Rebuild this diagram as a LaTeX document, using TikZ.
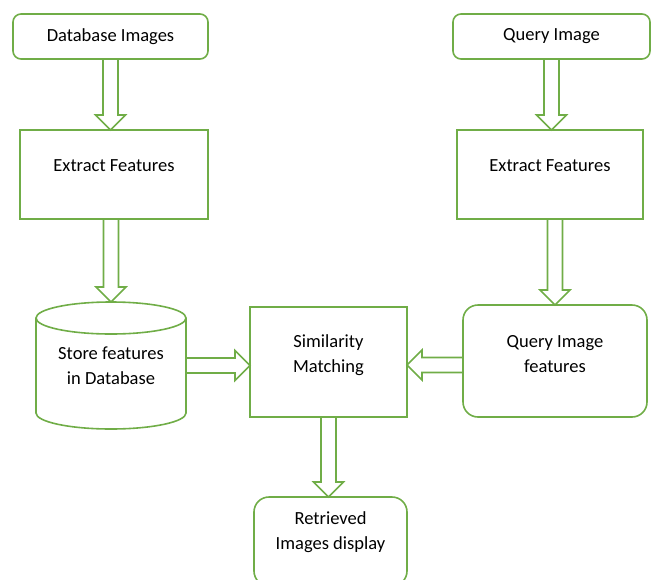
\documentclass[tikz,border=0pt]{standalone}
\usepackage{fontspec}
\setmainfont{Carlito}
\usetikzlibrary{calc}
\definecolor{leaf}{RGB}{112,173,71}

\tikzset{
  box/.style={draw=leaf, line width=1.6pt, rectangle, align=center, inner sep=0pt,
    outer sep=0pt, font=\fontsize{18.5}{25}\selectfont},
  hollow/.style={draw=leaf, fill=white, line width=1.6pt, line join=miter}
}

% hollow block arrow: name, from, to
\newcommand{\blockarrow}[3]{%
  \path (#2) coordinate (#1-from) (#3) coordinate (#1-to);
  \pgfpointdiff{\pgfpointanchor{#1-from}{center}}{\pgfpointanchor{#1-to}{center}}%
  \pgfgetlastxy{\arrdx}{\arrdy}%
  \pgfmathsetmacro\arrang{atan2(\arrdy,\arrdx)}%
  \pgfmathsetmacro\arrlen{veclen(\arrdx,\arrdy)}%
  \begin{scope}[shift={(#1-from)}, rotate=\arrang, x=1pt, y=1pt]
    \draw[hollow] (0,-7.5) -- (\arrlen-15,-7.5) -- (\arrlen-15,-15) -- (\arrlen,0)
      -- (\arrlen-15,15) -- (\arrlen-15,7.5) -- (0,7.5) -- cycle;
  \end{scope}}

\begin{document}
\begin{tikzpicture}[x=1pt, y=-1pt]
  \useasboundingbox (0,0) rectangle (651,579);

  % Inputs
  \node[box, rounded corners=8pt, minimum width=195pt, minimum height=45pt]
    (dbimg) at (110.5,36.5) {Database Images};
  \node[box, rounded corners=8pt, minimum width=197pt, minimum height=45pt]
    (qimg) at (551.5,36.5) {Query Image};

  % Feature extraction
  \node[box, minimum width=188pt, minimum height=89pt, text height=12pt, text depth=18pt]
    (ext1) at (114,174.5) {Extract Features};
  \node[box, minimum width=186pt, minimum height=89pt, text height=12pt, text depth=18pt]
    (ext2) at (550,174.5) {Extract Features};

  % Database cylinder
  \node[align=center, inner sep=0pt, outer sep=0pt, minimum width=150pt, minimum height=95pt,
    font=\fontsize{18.5}{25}\selectfont] (store) at (111,365.5) {Store features\\in Database};
  \draw[leaf, line width=1.6pt] (store.north west) -- (store.south west)
    arc[start angle=180, end angle=360, x radius=75pt, y radius=16pt] -- (store.north east);
  \draw[leaf, line width=1.6pt] (store.north) ellipse [x radius=75pt, y radius=16pt];
  \coordinate (storetop) at ($(store.north)+(0pt,16pt)$);

  % Matching and query features
  \node[box, minimum width=157pt, minimum height=110pt, text height=37pt, text depth=16pt]
    (simm) at (328.5,362) {Similarity\\Matching};
  \node[box, rounded corners=15pt, minimum width=184pt, minimum height=112pt,
    text height=37pt, text depth=14pt] (qfeat) at (555,361) {Query Image\\features};

  % Output
  \node[box, rounded corners=15pt, minimum width=153pt, minimum height=89pt,
    text height=37pt, text depth=22pt] (retr) at (330.5,541.5) {Retrieved\\Images display};

  % Block arrows
  \blockarrow{a1}{dbimg.south}{dbimg.south |- ext1.north}
  \blockarrow{a2}{ext1.south -| storetop}{storetop}
  \blockarrow{a3}{qimg.south}{qimg.south |- ext2.north}
  \blockarrow{a4}{qfeat.north |- ext2.south}{qfeat.north}
  \blockarrow{a5}{store.east}{store.east -| simm.west}
  \blockarrow{a6}{$(qfeat.west)+(0pt,-4pt)$}{$(qfeat.west -| simm.east)+(0pt,-4pt)$}
  \blockarrow{a7}{simm.south}{simm.south |- retr.north}
\end{tikzpicture}
\end{document}
